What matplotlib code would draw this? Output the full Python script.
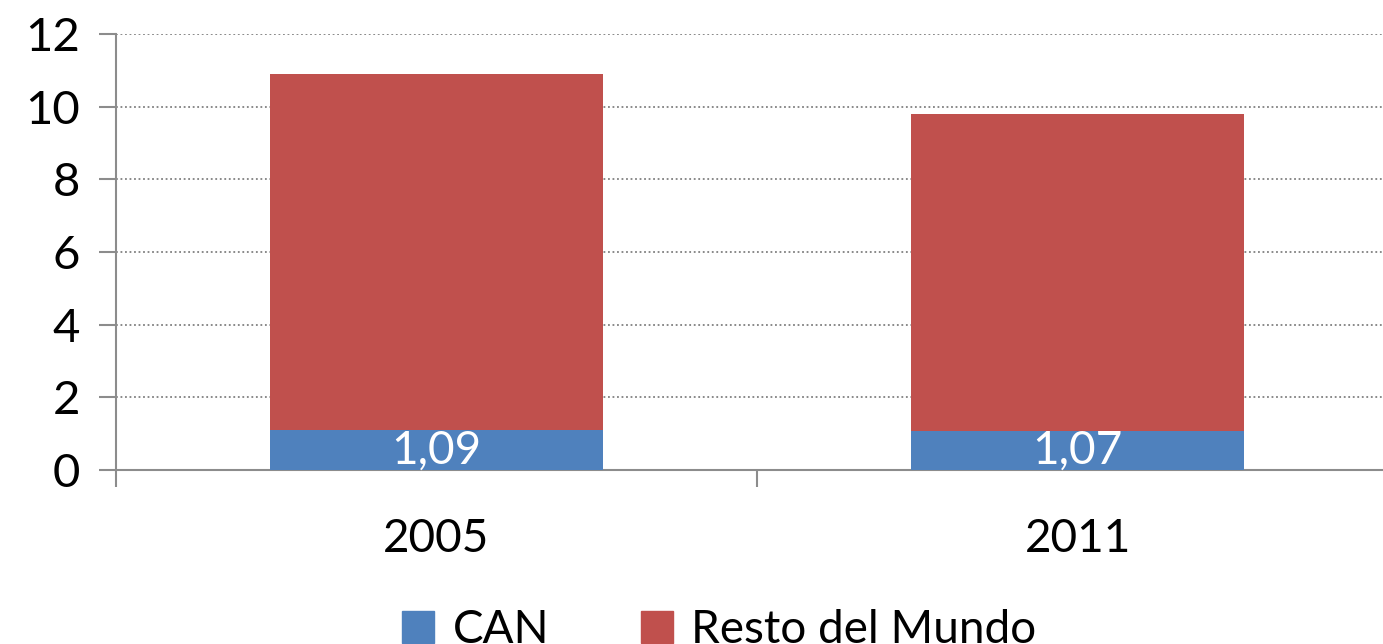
import matplotlib.pyplot as plt
from matplotlib.patches import Patch

plt.rcParams['font.family'] = ['Lato', 'DejaVu Sans']

years = ["2005", "2011"]
can = [1.09, 1.07]
resto = [9.80, 8.73]
can_labels = ["1,09", "1,07"]

blue = "#4F81BD"
red = "#C0504D"
axis_grey = "#8C8C8C"

fig = plt.figure(figsize=(13.83, 6.44), dpi=100)
ax = fig.add_axes([0.0839, 0.2702, 0.927, 0.677])

x = list(range(len(years)))
ax.bar(x, can, width=0.52, color=blue, zorder=3)
ax.bar(x, resto, width=0.52, bottom=can, color=red, zorder=3)

for xi, v, lab in zip(x, can, can_labels):
    ax.text(xi, v / 2, lab, ha='center', va='center', color='white',
            fontsize=33, zorder=4)

ax.set_xlim(-0.5, 1.5)
ax.set_ylim(0, 12)
ax.set_yticks(range(0, 13, 2))
ax.tick_params(axis='y', labelsize=34, length=12, width=1.5, color=axis_grey, pad=14)

# category labels sit between tick marks, like a spreadsheet chart
ax.set_xticks([-0.5, 0.5, 1.5])
ax.set_xticklabels([])
ax.tick_params(axis='x', length=12, width=1.5, color=axis_grey)
for xi, yr in zip(x, years):
    ax.text(xi, -1.9, yr, ha='center', va='center', fontsize=33,
            transform=ax.transData)

ax.yaxis.grid(True, linestyle=(0, (1, 1.5)), color='#808080', linewidth=1.3, zorder=0)
for s in ('top', 'right'):
    ax.spines[s].set_visible(False)
for s in ('left', 'bottom'):
    ax.spines[s].set_color(axis_grey)
    ax.spines[s].set_linewidth(1.5)

handles = [Patch(color=blue, label="CAN"), Patch(color=red, label="Resto del Mundo")]
fig.legend(handles=handles, loc='center', bbox_to_anchor=(0.52, 0.022), ncol=2,
           frameon=False, fontsize=33, handlelength=0.7, handleheight=0.7,
           handletextpad=0.4, columnspacing=2.0)

fig.savefig("out.png", dpi=100)
